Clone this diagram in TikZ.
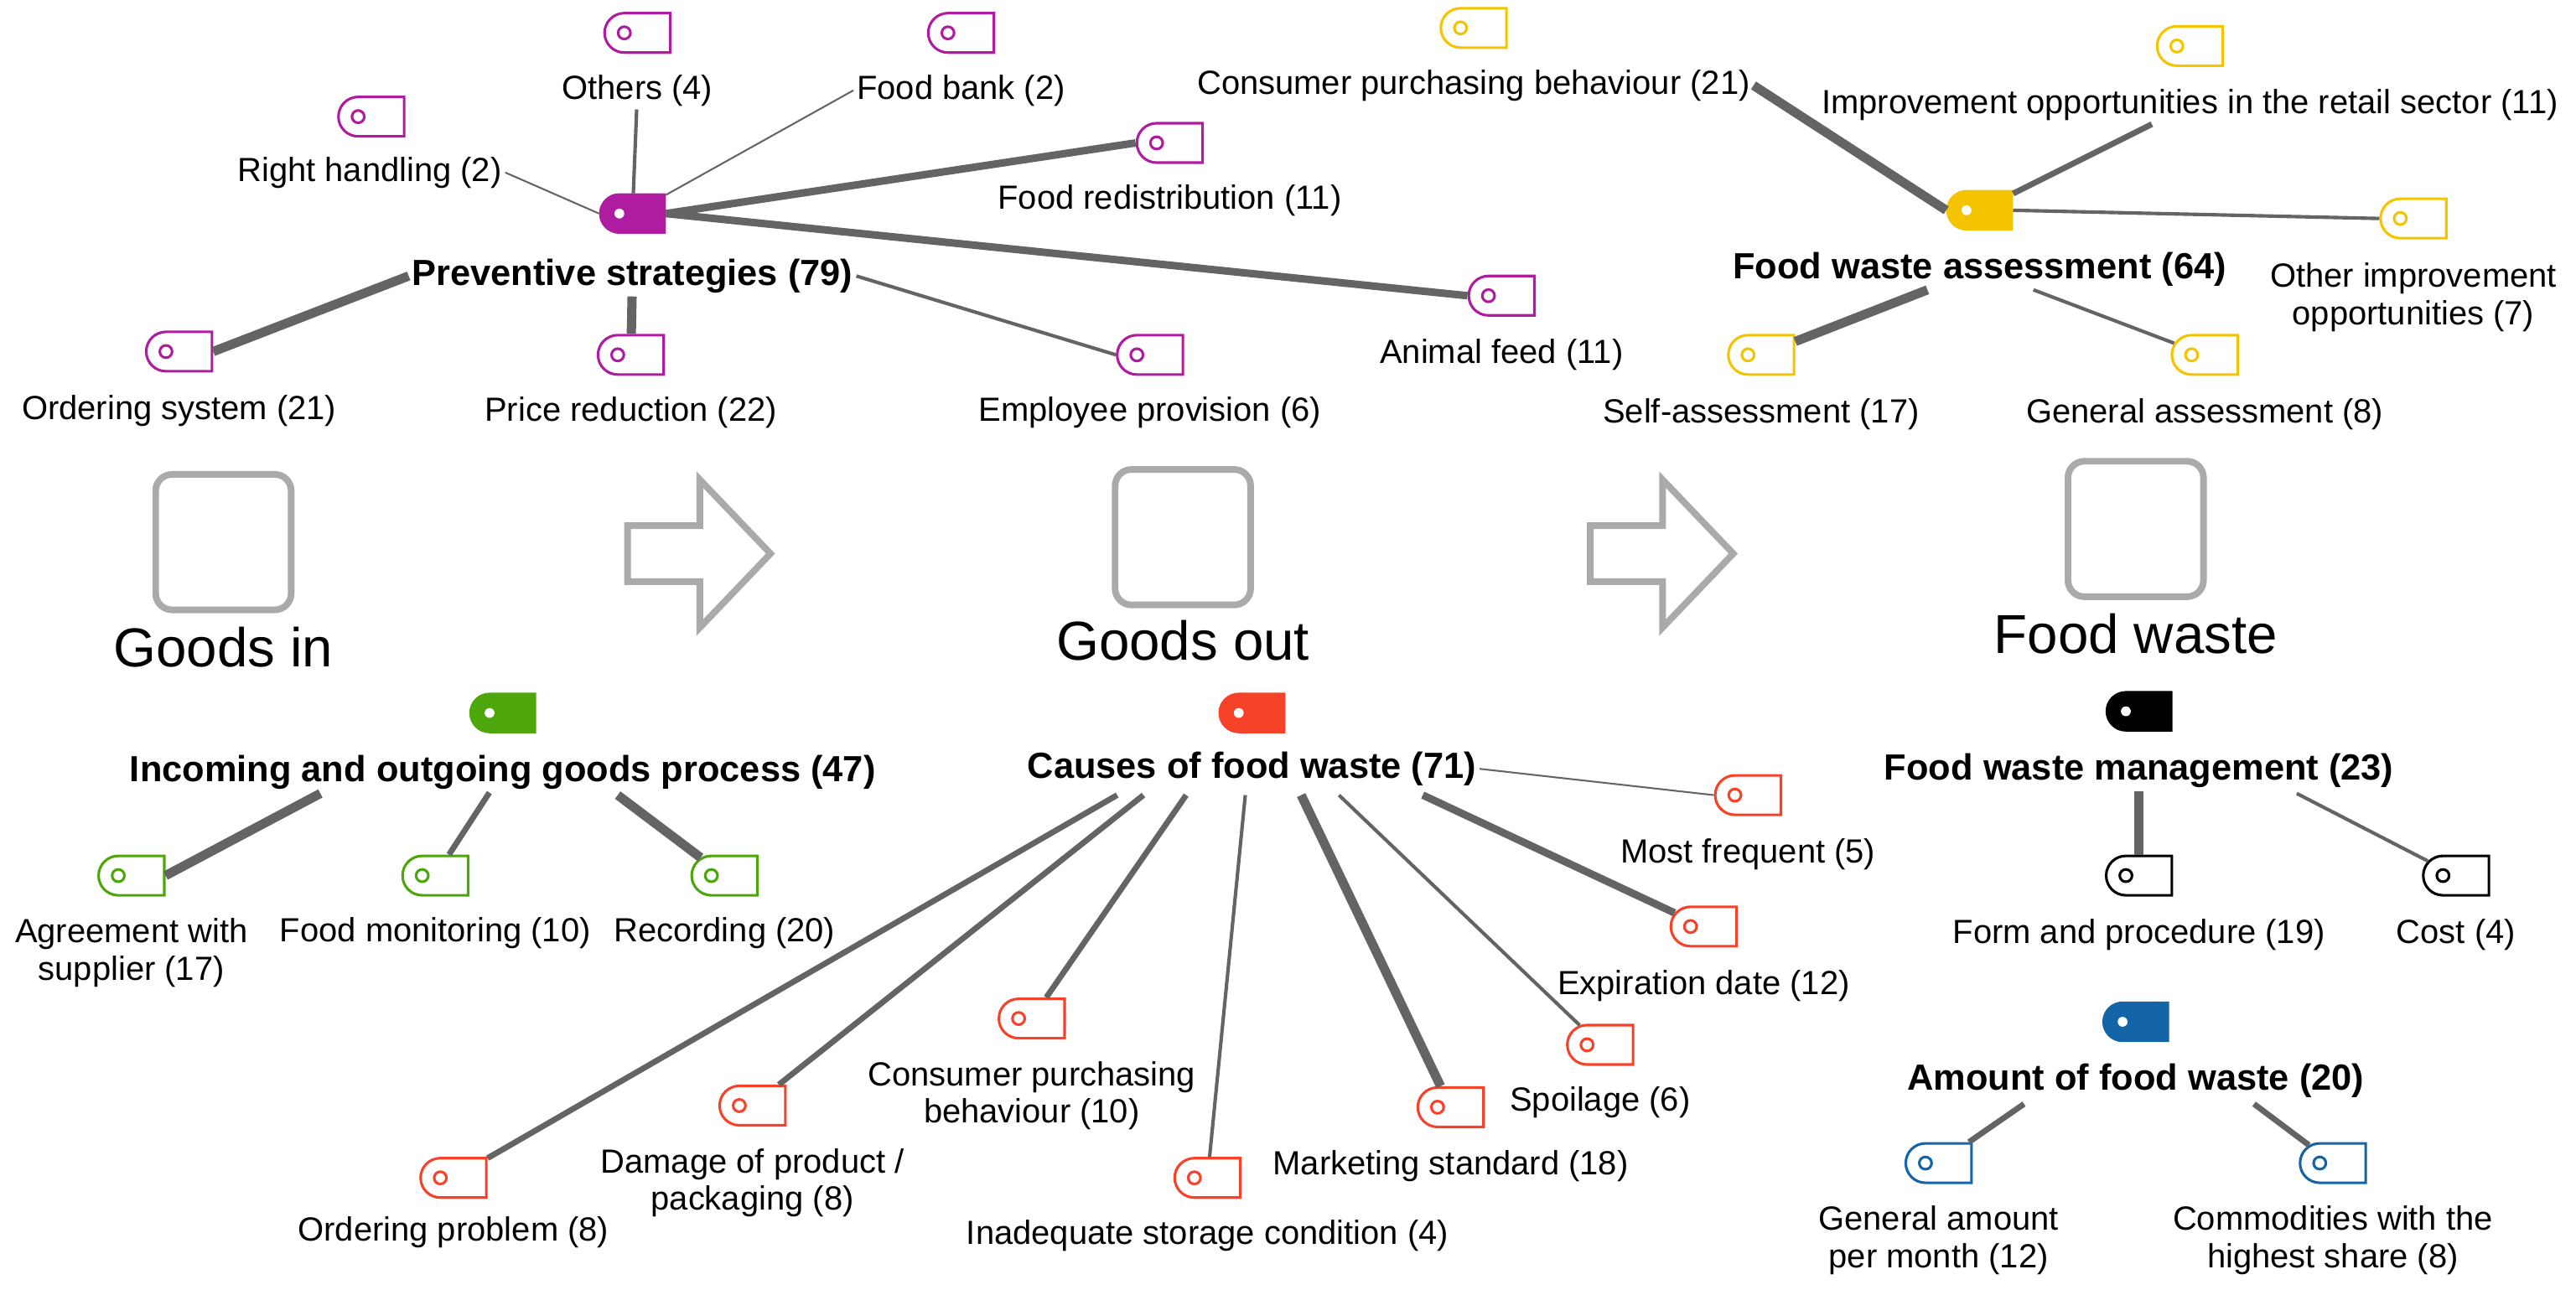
\documentclass[tikz,border=0pt]{standalone}
\usepackage{fontspec}
\setmainfont{Liberation Sans}
\usetikzlibrary{shapes.misc}
\definecolor{cPrev}{RGB}{176,28,160}
\definecolor{cAss}{RGB}{245,196,0}
\definecolor{cGoods}{RGB}{76,166,12}
\definecolor{cCause}{RGB}{246,66,40}
\definecolor{cMan}{RGB}{0,0,0}
\definecolor{cAmt}{RGB}{20,100,168}
\definecolor{cLine}{RGB}{100,100,100}
\definecolor{cBox}{RGB}{170,170,170}
\tikzset{
  tag/.style={rounded rectangle, rounded rectangle right arc=none,
    minimum width=0.8cm, minimum height=0.48cm, inner sep=0pt,
    draw=#1, line width=0.9pt,
    path picture={\draw[#1, line width=0.9pt]
      ([xshift=0.24cm]path picture bounding box.west) circle (0.075cm);}},
  maintag/.style={rounded rectangle, rounded rectangle right arc=none,
    minimum width=0.8cm, minimum height=0.48cm, inner sep=0pt,
    fill=#1, draw=#1,
    path picture={\fill[white]
      ([xshift=0.24cm]path picture bounding box.west) circle (0.06cm);}},
  lab/.style={font=\fontsize{11.6}{13}\selectfont, inner sep=1pt, align=center},
  mainlab/.style={lab, font=\fontsize{12.6}{14}\selectfont\bfseries},
  big/.style={font=\fontsize{19}{21}\selectfont, inner sep=0pt},
  box/.style={draw=cBox, line width=2.3pt, rounded corners=0.2cm,
    minimum size=1.65cm, inner sep=0pt},
  w1/.style={cLine, line width=0.6pt},
  w2/.style={cLine, line width=1.2pt},
  w3/.style={cLine, line width=2pt},
  w4/.style={cLine, line width=2.6pt},
  w5/.style={cLine, line width=3.2pt},
}
\begin{document}
\begin{tikzpicture}[x=0.02cm,y=-0.02cm]
\useasboundingbox (0,0) rectangle (1568,785);
% process row
\node[box] (gin) at (136,330) {};
\node[big] (ginl) at (136,394) {Goods in};
\node[box] (gout) at (720,327) {};
\node[big] (goutl) at (720,390) {Goods out};
\node[box] (fw) at (1300,322) {};
\node[big] (fwl) at (1300,386) {Food waste};
\foreach \ax in {382,968} {
  \draw[cBox, line width=2.3pt, line join=miter]
    (\ax,320) -- ++(44,0) -- ++(0,-28) -- ++(43,45) -- ++(-43,45)
    -- ++(0,-28) -- ++(-44,0) -- cycle;
}
% preventive strategies
\node[maintag=cPrev] (ps) at (385,130) {};
\node[mainlab] (psl) at (385,168) {Preventive strategies (79)};
\node[tag=cPrev] (t-rh) at (226,71) {};
\node[lab] (l-rh) at (225,105) {Right handling (2)};
\node[tag=cPrev] (t-ot) at (388,20) {};
\node[lab] (l-ot) at (388,55) {Others (4)};
\node[tag=cPrev] (t-fb) at (585,20) {};
\node[lab] (l-fb) at (585,55) {Food bank (2)};
\node[tag=cPrev] (t-fr) at (712,87) {};
\node[lab] (l-fr) at (712,122) {Food redistribution (11)};
\node[tag=cPrev] (t-af) at (914,180) {};
\node[lab] (l-af) at (914,216) {Animal feed (11)};
\node[tag=cPrev] (t-ep) at (700,216) {};
\node[lab] (l-ep) at (700,251) {Employee provision (6)};
\node[tag=cPrev] (t-pr) at (384,216) {};
\node[lab] (l-pr) at (384,251) {Price reduction (22)};
\node[tag=cPrev] (t-os) at (109,214) {};
\node[lab] (l-os) at (109,250) {Ordering system (21)};
\draw[w1] (l-rh.east) -- (ps.west);
\draw[w2] (l-ot) -- (ps);
\draw[w1] (l-fb.west) -- (ps);
\draw[w4] (ps.east) -- (t-fr.west);
\draw[w4] (ps.east) -- (t-af.west);
\draw[w2] (psl.east) -- (t-ep.west);
\draw[w5] (psl) -- (t-pr);
\draw[w5] (psl.west) -- (t-os.east);
% food waste assessment
\node[maintag=cAss] (fa) at (1205,128) {};
\node[mainlab] (fal) at (1205,164) {Food waste assessment (64)};
\node[tag=cAss] (t-cp) at (897,17) {};
\node[lab] (l-cp) at (897,52) {Consumer purchasing behaviour (21)};
\node[tag=cAss] (t-io) at (1333,28) {};
\node[lab] (l-io) at (1333,64) {Improvement opportunities in the retail sector (11)};
\node[tag=cAss] (t-oi) at (1469,133) {};
\node[lab] (l-oi) at (1469,181) {Other improvement\\opportunities (7)};
\node[tag=cAss] (t-sa) at (1072,216) {};
\node[lab] (l-sa) at (1072,252) {Self-assessment (17)};
\node[tag=cAss] (t-ga) at (1342,216) {};
\node[lab] (l-ga) at (1342,252) {General assessment (8)};
\draw[w5] (l-cp.east) -- (fa.west);
\draw[w3] (l-io) -- (fa);
\draw[w2] (fa.east) -- (t-oi.west);
\draw[w5] (fal) -- (t-sa);
\draw[w2] (fal) -- (t-ga);
% incoming and outgoing goods
\node[maintag=cGoods] (ig) at (306,434) {};
\node[mainlab] (igl) at (306,470) {Incoming and outgoing goods process (47)};
\node[tag=cGoods] (t-as) at (80,533) {};
\node[lab] (l-as) at (80,580) {Agreement with\\supplier (17)};
\node[tag=cGoods] (t-fm) at (265,533) {};
\node[lab] (l-fm) at (265,568) {Food monitoring (10)};
\node[tag=cGoods] (t-re) at (441,533) {};
\node[lab] (l-re) at (441,568) {Recording (20)};
\draw[w5] (195,483) -- (t-as.east);
\draw[w3] (igl) -- (t-fm);
\draw[w5] (376,484) -- (t-re);
% causes of food waste
\node[maintag=cCause] (cf) at (762,434) {};
\node[mainlab] (cfl) at (762,468) {Causes of food waste (71)};
\node[tag=cCause] (t-mf) at (1064,484) {};
\node[lab] (l-mf) at (1064,520) {Most frequent (5)};
\node[tag=cCause] (t-ed) at (1037,564) {};
\node[lab] (l-ed) at (1037,600) {Expiration date (12)};
\node[tag=cCause] (t-sp) at (974,636) {};
\node[lab] (l-sp) at (974,671) {Spoilage (6)};
\node[tag=cCause] (t-ms) at (883,674) {};
\node[lab] (l-ms) at (883,710) {Marketing standard (18)};
\node[tag=cCause] (t-is) at (735,717) {};
\node[lab] (l-is) at (735,752) {Inadequate storage condition (4)};
\node[tag=cCause] (t-cb) at (628,620) {};
\node[lab] (l-cb) at (628,667) {Consumer purchasing\\behaviour (10)};
\node[tag=cCause] (t-dp) at (458,673) {};
\node[lab] (l-dp) at (458,720) {Damage of product /\\packaging (8)};
\node[tag=cCause] (t-op) at (276,717) {};
\node[lab] (l-op) at (276,750) {Ordering problem (8)};
\draw[w1] (cfl.east) -- (t-mf.west);
\draw[w4] (866,484) -- (t-ed);
\draw[w2] (815,484) -- (t-sp);
\draw[w5] (792,484) -- (t-ms);
\draw[w2] (758,484) -- (t-is);
\draw[w3] (722,484) -- (t-cb);
\draw[w3] (696,484) -- (t-dp);
\draw[w3] (680,484) -- (t-op);
% food waste management
\node[maintag=cMan] (fm) at (1302,433) {};
\node[mainlab] (fml) at (1302,469) {Food waste management (23)};
\node[tag=cMan] (t-fp) at (1302,533) {};
\node[lab] (l-fp) at (1302,569) {Form and procedure (19)};
\node[tag=cMan] (t-co) at (1495,533) {};
\node[lab] (l-co) at (1495,569) {Cost (4)};
\draw[w5] (fml) -- (t-fp);
\draw[w2] (1398,483) -- (t-co);
% amount of food waste
\node[maintag=cAmt] (af) at (1300,622) {};
\node[mainlab] (afl) at (1300,658) {Amount of food waste (20)};
\node[tag=cAmt] (t-gm) at (1180,708) {};
\node[lab] (l-gm) at (1180,755) {General amount\\per month (12)};
\node[tag=cAmt] (t-ch) at (1420,708) {};
\node[lab] (l-ch) at (1420,755) {Commodities with the\\highest share (8)};
\draw[w3] (1232,672) -- (t-gm);
\draw[w3] (1372,672) -- (t-ch);
\end{tikzpicture}
\end{document}
